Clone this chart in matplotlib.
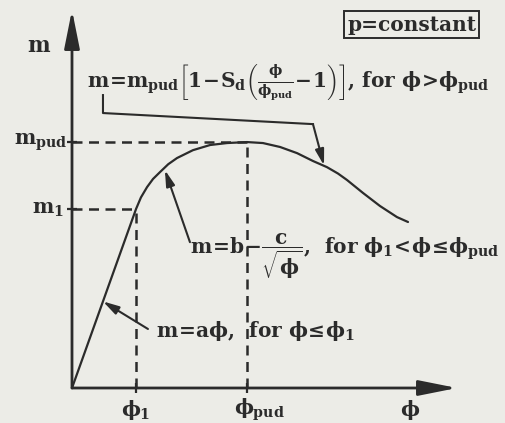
import matplotlib
matplotlib.use('Agg')
import matplotlib.pyplot as plt

# bold slab serif for both plain text and math
plt.rcParams['mathtext.fontset'] = 'custom'
plt.rcParams['mathtext.rm'] = 'DejaVu Serif:bold'
plt.rcParams['mathtext.it'] = 'DejaVu Serif:bold'
plt.rcParams['mathtext.bf'] = 'DejaVu Serif:bold'
plt.rcParams['font.family'] = 'DejaVu Serif'
plt.rcParams['font.weight'] = 'bold'

ink = '#2b2b2b'
paper = '#ecece7'

# characteristic points (phi normalised to phi_pud, m to m_pud)
phi_1 = 0.366
phi_pud = 1.0
m_1 = 0.728
m_pud = 1.0

# moment-curvature curve: linear rise, hardening branch, softening branch
phi = [0.0, 0.366, 0.394, 0.429, 0.463, 0.503, 0.550, 0.600, 0.691, 0.789, 0.886, 1.0,
       1.091, 1.189, 1.286, 1.377, 1.457, 1.520, 1.571, 1.663, 1.760, 1.857, 1.920]
m = [0.0, 0.728, 0.775, 0.817, 0.850, 0.878, 0.910, 0.935, 0.967, 0.988, 0.996, 1.0,
     0.996, 0.980, 0.955, 0.923, 0.898, 0.872, 0.846, 0.793, 0.740, 0.695, 0.675]

phi_max = 2.2
m_max = 1.537

fig = plt.figure(figsize=(5.05, 4.23), dpi=100, facecolor=paper)
ax = fig.add_axes([72 / 505, 35 / 423, (457 - 72) / 505, (388 - 10) / 423])
ax.set_xlim(0, phi_max)
ax.set_ylim(0, m_max)
ax.axis('off')
ax.set_facecolor(paper)

# axes with arrows
head = '-|>,head_length=1.3,head_width=0.26'
ax.annotate('', xy=(phi_max, 0), xytext=(0, 0),
            arrowprops=dict(arrowstyle=head, lw=2, color=ink, mutation_scale=18,
                            shrinkA=0, shrinkB=0))
ax.annotate('', xy=(0, m_max), xytext=(0, 0),
            arrowprops=dict(arrowstyle=head, lw=2, color=ink, mutation_scale=18,
                            shrinkA=0, shrinkB=0))

# curve
ax.plot(phi, m, color=ink, lw=1.6, solid_joinstyle='round', solid_capstyle='round')

# dashed guides
dash = dict(color=ink, lw=1.8, dashes=(4, 2.6))
ax.plot([0, phi_1], [m_1, m_1], **dash)
ax.plot([0, phi_pud], [m_pud, m_pud], **dash)
ax.plot([phi_1, phi_1], [0, m_1], **dash)
ax.plot([phi_pud, phi_pud], [0, m_pud], **dash)

# small ticks on the axes
ax.plot([0, 0], [m_1, m_pud], ls='none', marker='_', ms=7, mew=1.6, color=ink, clip_on=False)
ax.plot([phi_1, phi_pud], [0, 0], ls='none', marker='|', ms=7, mew=1.6, color=ink, clip_on=False)

fs = 14.5

# axis labels
ax.text(-0.19, 1.39, r'$m$', fontsize=fs + 1, color=ink, ha='center', va='center')
ax.text(-0.03, m_pud, r'$m_{pud}$', fontsize=fs, color=ink, ha='right', va='center')
ax.text(-0.05, m_1, r'$m_1$', fontsize=fs, color=ink, ha='right', va='center')
ax.text(phi_1, -0.09, r'$\phi_1$', fontsize=fs, color=ink, ha='center', va='center')
ax.text(phi_pud + 0.07, -0.09, r'$\phi_{pud}$', fontsize=fs, color=ink, ha='center', va='center')
ax.text(1.93, -0.09, r'$\phi$', fontsize=fs, color=ink, ha='center', va='center')

# p = constant box
ax.text(1.94, 1.478, 'p=constant', fontsize=fs, color=ink, ha='center', va='center',
        bbox=dict(boxstyle='square,pad=0.15', fc='none', ec=ink, lw=1.4))

# branch equations
ax.text(0.085, 1.24,
        r'$m\!=\!m_{pud}\left[1\!-\!S_d\left(\frac{\phi}{\phi_{pud}}\!-\!1\right)\right]$, for $\phi\!>\!\phi_{pud}$',
        fontsize=fs, color=ink, ha='left', va='center')
ax.text(0.674, 0.535,
        r'$m\!=\!b\!-\!\dfrac{c}{\sqrt{\phi}}$,  for $\phi_1\!<\!\phi\!\leq\!\phi_{pud}$',
        fontsize=fs, color=ink, ha='left', va='center')
ax.text(0.48, 0.23, r'$m\!=\!a\phi$,  for $\phi\!\leq\!\phi_1$',
        fontsize=fs, color=ink, ha='left', va='center')

# leader lines
lead = dict(arrowstyle='-|>,head_length=0.8,head_width=0.22', lw=1.5, color=ink,
            mutation_scale=12, shrinkA=0, shrinkB=0)
ax.plot([0.177, 0.177, 1.377], [1.191, 1.118, 1.073], color=ink, lw=1.5)
ax.annotate('', xy=(1.44, 0.905), xytext=(1.377, 1.073), arrowprops=lead)
ax.annotate('', xy=(0.531, 0.886), xytext=(0.674, 0.593), arrowprops=lead)
ax.annotate('', xy=(0.177, 0.352), xytext=(0.434, 0.240), arrowprops=lead)

fig.savefig('out.png', dpi=100, facecolor=paper)
